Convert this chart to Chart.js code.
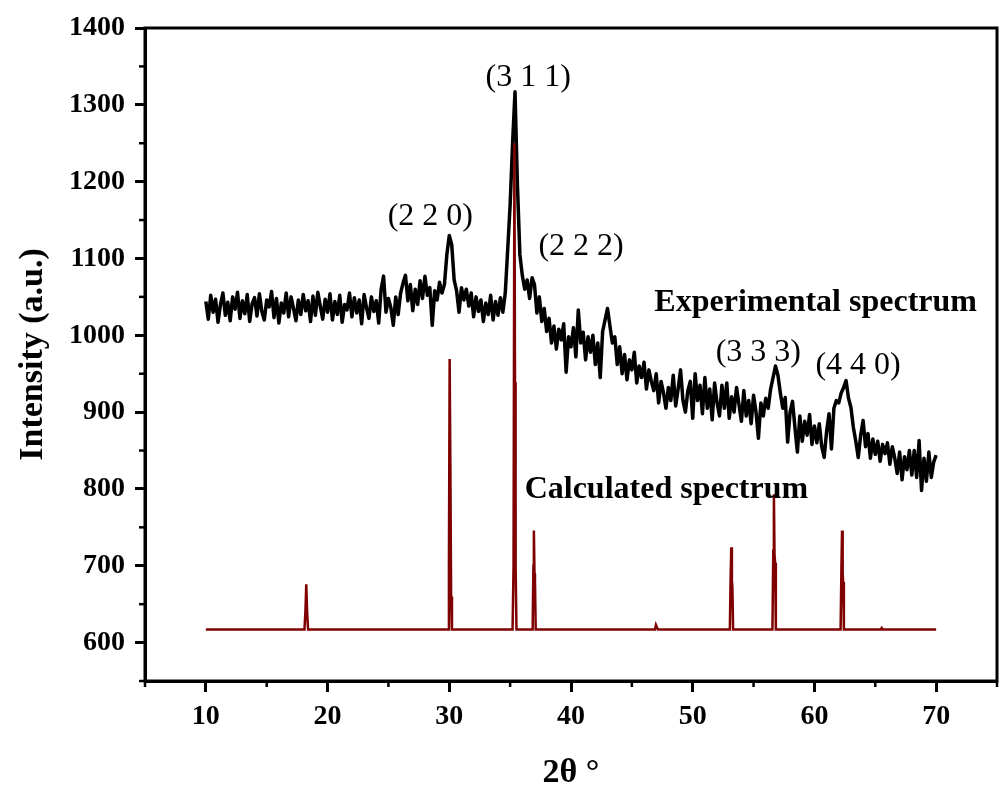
<!DOCTYPE html>
<html>
<head>
<meta charset="utf-8">
<script src="https://cdn.jsdelivr.net/npm/chart.js@4.4.0/dist/chart.umd.min.js"></script>
<style>
  html, body { margin: 0; padding: 0; background: #fff; }
</style>
</head>
<body>
<canvas id="xrdChart" width="1000" height="790"></canvas>
<script>
const SERIF = "'Liberation Serif', 'Times New Roman', serif";

// experimental pattern, one reading every 0.2 deg from 10 to 70
const expStart = 10;
const expStep = 0.2;
const expIntensity = [
  1044, 1021, 1052, 1030, 1047, 1017, 1040, 1055, 1026, 1043, // 10
  1019, 1050, 1034, 1056, 1022, 1045, 1028, 1053, 1018, 1041, // 12
  1049, 1025, 1054, 1031, 1020, 1046, 1037, 1057, 1023, 1048, // 14
  1016, 1042, 1029, 1055, 1024, 1050, 1035, 1019, 1046, 1027, // 16
  1053, 1032, 1045, 1018, 1051, 1026, 1056, 1038, 1021, 1047, // 18
  1030, 1054, 1020, 1044, 1027, 1052, 1017, 1040, 1033, 1055, // 20
  1024, 1049, 1029, 1046, 1015, 1053, 1036, 1022, 1050, 1031, // 22
  1045, 1016, 1060, 1077, 1030, 1048, 1036, 1013, 1050, 1027, // 24
  1055, 1068, 1078, 1045, 1066, 1032, 1060, 1040, 1071, 1048, // 26
  1077, 1052, 1062, 1013, 1058, 1046, 1069, 1055, 1066, 1105, // 28
  1130, 1118, 1072, 1058, 1030, 1062, 1046, 1060, 1038, 1055, // 30
  1024, 1050, 1031, 1046, 1018, 1042, 1027, 1052, 1020, 1044, // 32
  1026, 1049, 1030, 1055, 1112, 1170, 1250, 1317, 1195, 1105, // 34
  1078, 1060, 1072, 1048, 1075, 1066, 1029, 1050, 1018, 1035, // 36
  1005, 1022, 990, 1012, 982, 1008, 994, 1015, 952, 998,      // 38
  985, 1010, 972, 1033, 990, 1004, 968, 998, 978, 1000,       // 40
  962, 990, 945, 1005, 1020, 1035, 1012, 990, 998, 962,       // 42
  985, 950, 975, 942, 968, 955, 978, 938, 960, 945,           // 44
  965, 930, 955, 940, 928, 950, 912, 940, 925, 905,           // 46
  932, 915, 948, 908, 930, 955, 915, 900, 928, 940,           // 48
  892, 950, 915, 935, 898, 945, 905, 930, 890, 938,           // 50
  912, 895, 935, 905, 938, 892, 920, 900, 932, 910,           // 52
  888, 928, 895, 915, 885, 922, 900, 866, 912, 895,           // 54
  918, 905, 930, 945, 960, 948, 925, 905, 919, 861,           // 56
  900, 914, 880, 848, 895, 862, 888, 870, 897, 858,           // 58
  882, 860, 885, 855, 841, 875, 898, 852, 905, 915,           // 60
  912, 925, 932, 941, 918, 906, 880, 862, 841, 870,           // 62
  889, 855, 872, 840, 865, 845, 862, 836, 858, 846,           // 64
  860, 832, 855, 840, 820, 848, 812, 842, 825, 850,           // 66
  818, 850, 815, 863, 798, 840, 810, 848, 815, 835,           // 68
  844                                                         // 70
];

// calculated pattern (narrow lines on a flat base)
const calcAngle = [
  10, 18.1, 18.18, 18.25, 18.32, 18.4,
  29.9, 29.97, 30.03, 30.09, 30.15, 30.22,
  35.2, 35.28, 35.35, 35.4, 35.45, 35.52,
  36.85, 36.91, 36.95, 37.0, 37.04, 37.1,
  46.9, 46.98, 47.06, 47.14,
  53.05, 53.12, 53.17, 53.22, 53.26, 53.32,
  56.55, 56.62, 56.67, 56.72, 56.77, 56.83,
  62.15, 62.22, 62.27, 62.32, 62.36, 62.42,
  65.45, 65.53, 65.61,
  70
];
const calcIntensity = [
  617, 617, 640, 676, 640, 617,
  617, 700, 969, 830, 660, 617,
  617, 700, 1250, 939, 700, 617,
  617, 700, 746, 690, 682, 617,
  617, 623, 620, 617,
  617, 690, 724, 680, 672, 617,
  617, 720, 793, 715, 704, 617,
  617, 700, 746, 690, 679, 617,
  617, 619, 617,
  617
];

const xTicks = [10, 20, 30, 40, 50, 60, 70];
const xMinor = [5, 15, 25, 35, 45, 55, 65, 75];
const yTicks = [600, 700, 800, 900, 1000, 1100, 1200, 1300, 1400];
const yMinor = [550, 650, 750, 850, 950, 1050, 1150, 1250, 1350];

const peakText = ["(3 1 1)", "(2 2 0)", "(2 2 2)", "(3 3 3)", "(4 4 0)"];
const peakX = [36.48, 28.44, 40.83, 55.39, 63.59];
const peakY = [1336, 1155, 1115, 978, 961];

const seriesText = ["Experimental spectrum", "Calculated spectrum"];
const seriesX = [60.1, 47.84];
const seriesY = [1043, 799];

const expData = expIntensity.map((v, i) => ({ x: expStart + i * expStep, y: v }));
const calcData = calcAngle.map((a, i) => ({ x: a, y: calcIntensity[i] }));

// box round the plot + short minor ticks
const framePlugin = {
  id: "frame",
  afterDraw(chart) {
    const { ctx, chartArea: a, scales } = chart;
    ctx.save();
    ctx.strokeStyle = "#000";
    ctx.lineWidth = 3;
    ctx.strokeRect(a.left, a.top, a.right - a.left, a.bottom - a.top);
    ctx.lineWidth = 2.5;
    yMinor.forEach(v => {
      const y = scales.y.getPixelForValue(v);
      ctx.beginPath();
      ctx.moveTo(a.left - 6, y);
      ctx.lineTo(a.left, y);
      ctx.stroke();
    });
    xMinor.forEach(v => {
      const x = scales.x.getPixelForValue(v);
      ctx.beginPath();
      ctx.moveTo(x, a.bottom);
      ctx.lineTo(x, a.bottom + 6);
      ctx.stroke();
    });
    ctx.restore();
  }
};

const labelPlugin = {
  id: "peakLabels",
  afterDatasetsDraw(chart) {
    const { ctx, scales } = chart;
    ctx.save();
    ctx.fillStyle = "#000";
    ctx.textAlign = "center";
    ctx.textBaseline = "middle";
    ctx.font = "32px " + SERIF;
    peakText.forEach((t, i) => {
      ctx.fillText(t, scales.x.getPixelForValue(peakX[i]), scales.y.getPixelForValue(peakY[i]));
    });
    ctx.font = "bold 32px " + SERIF;
    seriesText.forEach((t, i) => {
      ctx.fillText(t, scales.x.getPixelForValue(seriesX[i]), scales.y.getPixelForValue(seriesY[i]));
    });
    ctx.restore();
  }
};

Chart.defaults.color = "#000";
Chart.defaults.font.family = SERIF;

new Chart(document.getElementById("xrdChart").getContext("2d"), {
  type: "line",
  data: {
    datasets: [
      {
        label: "Calculated spectrum",
        data: calcData,
        borderColor: "#7f0000",
        borderWidth: 2.5,
        pointRadius: 0,
        tension: 0,
        order: 0
      },
      {
        label: "Experimental spectrum",
        data: expData,
        borderColor: "#000",
        borderWidth: 3.5,
        pointRadius: 0,
        tension: 0,
        borderJoinStyle: "round",
        order: 1
      }
    ]
  },
  options: {
    responsive: false,
    animation: false,
    layout: { padding: { top: 28, right: 3, left: 0, bottom: 0 } },
    plugins: {
      legend: { display: false },
      tooltip: { enabled: false }
    },
    scales: {
      x: {
        type: "linear",
        min: 5,
        max: 75,
        afterBuildTicks: (s) => { s.ticks = xTicks.map(v => ({ value: v })); },
        afterFit: (s) => { s.height = 109; },
        grid: { drawOnChartArea: false, tickLength: 11, tickWidth: 3, tickColor: "#000" },
        border: { display: true, width: 3, color: "#000" },
        ticks: {
          autoSkip: false,
          maxRotation: 0,
          padding: 8,
          font: { size: 28, weight: "bold" },
          callback: (v) => String(v)
        },
        title: {
          display: true,
          text: "2θ °",
          padding: 0,
          font: { size: 34, weight: "bold", lineHeight: 1 }
        }
      },
      y: {
        min: 550,
        max: 1400,
        afterBuildTicks: (s) => { s.ticks = yTicks.map(v => ({ value: v })); },
        afterFit: (s) => { s.width = 145; },
        grid: { drawOnChartArea: false, tickLength: 10, tickWidth: 3, tickColor: "#000" },
        border: { display: true, width: 3, color: "#000" },
        ticks: {
          padding: 10,
          font: { size: 28, weight: "bold" },
          callback: (v) => String(v)
        },
        title: {
          display: true,
          text: "Intensity (a.u.)",
          padding: { top: 16, bottom: 0 },
          font: { size: 34, weight: "bold", lineHeight: 1 }
        }
      }
    }
  },
  plugins: [framePlugin, labelPlugin]
});
</script>
</body>
</html>
